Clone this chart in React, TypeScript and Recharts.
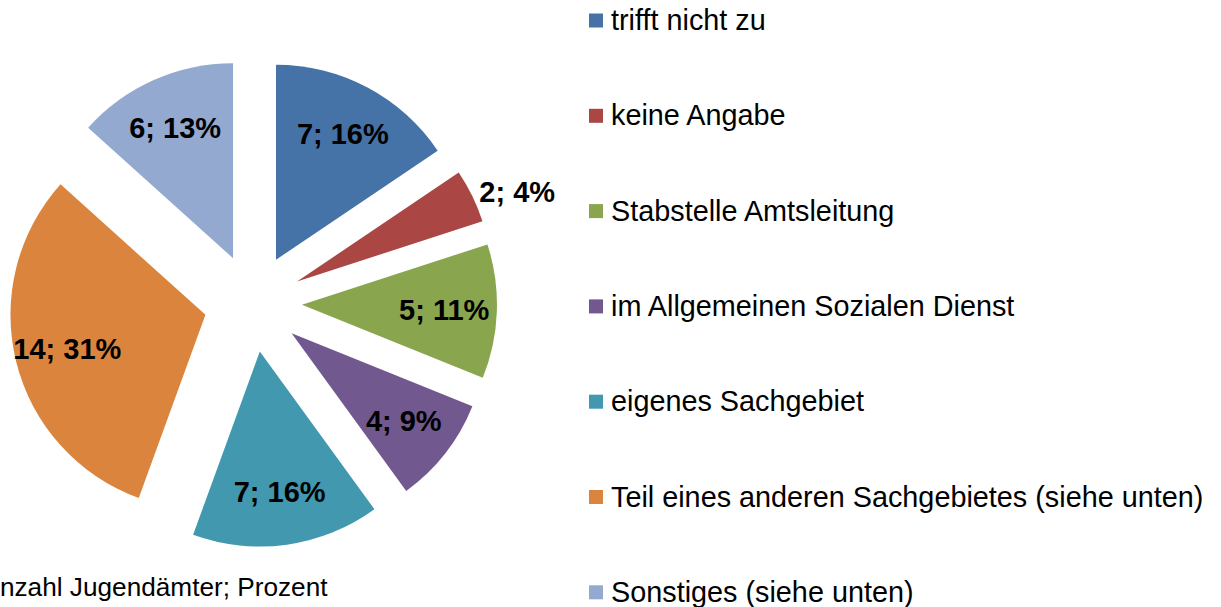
import React from 'react';
import { PieChart, Pie, Cell, Sector, Legend } from 'recharts';

const categories = [
  'trifft nicht zu',
  'keine Angabe',
  'Stabstelle Amtsleitung',
  'im Allgemeinen Sozialen Dienst',
  'eigenes Sachgebiet',
  'Teil eines anderen Sachgebietes (siehe unten)',
  'Sonstiges (siehe unten)',
];
const counts = [7, 2, 5, 4, 7, 14, 6];
const colors = ['#4572A7', '#AA4643', '#89A54E', '#71588F', '#4198AF', '#DB843D', '#93A9CF'];
const footnote = 'Anzahl Jugendämter; Prozent';

const data = categories.map((name, i) => ({ name, value: counts[i] }));

const W = 1221;
const H = 607;
const FONT = '"Liberation Sans", Arial, Helvetica, sans-serif';
const EXPLODE = 49;
const RAD = Math.PI / 180;

const offsetFor = (midAngle: number) => ({
  dx: EXPLODE * Math.cos(-midAngle * RAD),
  dy: EXPLODE * Math.sin(-midAngle * RAD),
});

const renderSector = (props: any) => {
  const { cx, cy, midAngle, innerRadius, outerRadius, startAngle, endAngle, fill } = props;
  const { dx, dy } = offsetFor(midAngle);
  return (
    <Sector
      cx={cx + dx}
      cy={cy + dy}
      innerRadius={innerRadius}
      outerRadius={outerRadius}
      startAngle={startAngle}
      endAngle={endAngle}
      fill={fill}
      stroke="none"
    />
  );
};

const renderLabel = (props: any) => {
  const { cx, cy, midAngle, outerRadius, percent, value, index } = props;
  const { dx, dy } = offsetFor(midAngle);
  const ax = cx + dx;
  const ay = cy + dy;
  const c = Math.cos(-midAngle * RAD);
  const s = Math.sin(-midAngle * RAD);
  const text = `${value}; ${Math.round(percent * 100)}%`;
  if (percent < 0.05) {
    const px = ax + outerRadius * c;
    const py = ay + outerRadius * s;
    return (
      <text key={`l${index}`} x={px + 7} y={py - 4} textAnchor="start" dominantBaseline="central"
        fontFamily={FONT} fontWeight="bold" fontSize={29} fill="#000">
        {text}
      </text>
    );
  }
  const r = outerRadius * 0.73;
  return (
    <text key={`l${index}`} x={ax + r * c} y={ay + r * s} textAnchor="middle" dominantBaseline="central"
      fontFamily={FONT} fontWeight="bold" fontSize={29} fill="#000">
      {text}
    </text>
  );
};

const LEG_LEFT = 580;
const renderLegend = (props: any) => {
  const raw: any[] = props.payload && props.payload.length ? props.payload : [];
  const items = categories.map((n, i) => {
    const found = raw.find((p: any) => p.value === n);
    return { value: n, color: found && found.color ? found.color : colors[i] };
  });
  return (
    <svg width={W - LEG_LEFT} height={H} style={{ display: 'block' }}>
      {items.map((p: any, i: number) => {
        const yc = 20.5 + i * 95.3;
        return (
          <g key={i}>
            <rect x={589 - LEG_LEFT} y={yc - 7} width={14} height={14} fill={p.color} />
            <text x={611 - LEG_LEFT} y={yc + 9.5} fontFamily={FONT} fontSize={28.8} fill="#000">
              {p.value}
            </text>
          </g>
        );
      })}
    </svg>
  );
};

export default function App() {
  return (
    <div style={{ position: 'absolute', left: 0, top: 0, width: W, height: H, background: '#fff' }}>
      <PieChart width={W} height={H} margin={{ top: 0, right: 0, bottom: 0, left: 0 }}>
        <Pie
          data={data}
          dataKey="value"
          nameKey="name"
          cx={253}
          cy={303}
          outerRadius={195}
          startAngle={90}
          endAngle={-270}
          stroke="none"
          shape={renderSector}
          label={renderLabel}
          labelLine={false}
          isAnimationActive={false}
        >
          {data.map((d, i) => (
            <Cell key={d.name} fill={colors[i]} />
          ))}
        </Pie>
        <Legend
          layout="vertical"
          align="right"
          verticalAlign="top"
          content={renderLegend}
          wrapperStyle={{ position: 'absolute', left: LEG_LEFT, top: 0, width: W - LEG_LEFT, height: H }}
        />
      </PieChart>
      <svg width={W} height={H} style={{ position: 'absolute', left: 0, top: 0, pointerEvents: 'none' }}>
        <text x={-17.5} y={596} fontFamily={FONT} fontSize={26.2} fill="#000">
          {footnote}
        </text>
      </svg>
    </div>
  );
}
